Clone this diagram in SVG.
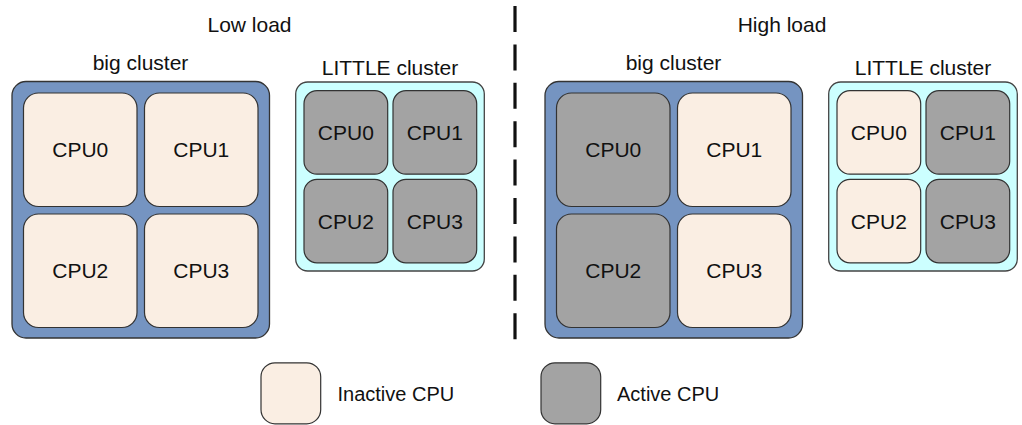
<svg xmlns="http://www.w3.org/2000/svg" width="1022" height="425" viewBox="0 0 1022 425">
<style>
text{font-family:"Liberation Sans",Arial,sans-serif;fill:#111;}
.t{font-size:21px;text-anchor:middle;}
.c{font-size:21px;text-anchor:middle;}
.l{font-size:20px;}
.big{fill:#7594c1;stroke:#333;stroke-width:1.3;}
.lit{fill:#ccffff;stroke:#444;stroke-width:1.3;}
.off{fill:#faeee3;stroke:#333;stroke-width:1.2;}
.on{fill:#a3a3a3;stroke:#333;stroke-width:1.2;}
</style>
<rect width="1022" height="425" fill="#fff"/>
<g id="connectors">
<line x1="515" y1="6" x2="515" y2="340" stroke="#111" stroke-width="3.2" stroke-dasharray="26 12.4"/>
</g>
<g id="titles">
<text class="t" x="249.5" y="31.5">Low load</text>
<text class="t" x="782" y="31.5">High load</text>
</g>
<g id="low-big">
<text class="t" x="140.5" y="69.5">big cluster</text>
<rect class="big" x="12" y="81.5" width="257.5" height="256.5" rx="14"/>
<rect class="off" x="23.5" y="93" width="113.5" height="113.5" rx="15"/>
<text class="c" x="80.25" y="157.3">CPU0</text>
<rect class="off" x="144.5" y="93" width="113.5" height="113.5" rx="15"/>
<text class="c" x="201.25" y="157.3">CPU1</text>
<rect class="off" x="23.5" y="214" width="113.5" height="113.5" rx="15"/>
<text class="c" x="80.25" y="278.3">CPU2</text>
<rect class="off" x="144.5" y="214" width="113.5" height="113.5" rx="15"/>
<text class="c" x="201.25" y="278.3">CPU3</text>
</g>
<g id="low-little">
<text class="t" x="390" y="74.5">LITTLE cluster</text>
<rect class="lit" x="295.7" y="82" width="188.6" height="189" rx="12"/>
<rect class="on" x="304" y="90.7" width="83.7" height="83.5" rx="13"/>
<text class="c" x="345.85" y="140">CPU0</text>
<rect class="on" x="393" y="90.7" width="83.7" height="83.5" rx="13"/>
<text class="c" x="434.85" y="140">CPU1</text>
<rect class="on" x="304" y="179.3" width="83.7" height="83.5" rx="13"/>
<text class="c" x="345.85" y="228.6">CPU2</text>
<rect class="on" x="393" y="179.3" width="83.7" height="83.5" rx="13"/>
<text class="c" x="434.85" y="228.6">CPU3</text>
</g>
<g id="high-big" transform="translate(533,0)">
<text class="t" x="140.5" y="69.5">big cluster</text>
<rect class="big" x="12" y="81.5" width="257.5" height="256.5" rx="14"/>
<rect class="on" x="23.5" y="93" width="113.5" height="113.5" rx="15"/>
<text class="c" x="80.25" y="157.3">CPU0</text>
<rect class="off" x="144.5" y="93" width="113.5" height="113.5" rx="15"/>
<text class="c" x="201.25" y="157.3">CPU1</text>
<rect class="on" x="23.5" y="214" width="113.5" height="113.5" rx="15"/>
<text class="c" x="80.25" y="278.3">CPU2</text>
<rect class="off" x="144.5" y="214" width="113.5" height="113.5" rx="15"/>
<text class="c" x="201.25" y="278.3">CPU3</text>
</g>
<g id="high-little" transform="translate(533,0)">
<text class="t" x="390" y="74.5">LITTLE cluster</text>
<rect class="lit" x="295.7" y="82" width="188.6" height="189" rx="12"/>
<rect class="off" x="304" y="90.7" width="83.7" height="83.5" rx="13"/>
<text class="c" x="345.85" y="140">CPU0</text>
<rect class="on" x="393" y="90.7" width="83.7" height="83.5" rx="13"/>
<text class="c" x="434.85" y="140">CPU1</text>
<rect class="off" x="304" y="179.3" width="83.7" height="83.5" rx="13"/>
<text class="c" x="345.85" y="228.6">CPU2</text>
<rect class="on" x="393" y="179.3" width="83.7" height="83.5" rx="13"/>
<text class="c" x="434.85" y="228.6">CPU3</text>
</g>
<g id="legend-inactive">
<rect class="off" x="261" y="362.8" width="59.7" height="61" rx="14"/>
<text class="l" x="337.5" y="401">Inactive CPU</text>
</g>
<g id="legend-active">
<rect class="on" x="541" y="362.8" width="59.7" height="61" rx="14"/>
<text class="l" x="617" y="401">Active CPU</text>
</g>
</svg>
